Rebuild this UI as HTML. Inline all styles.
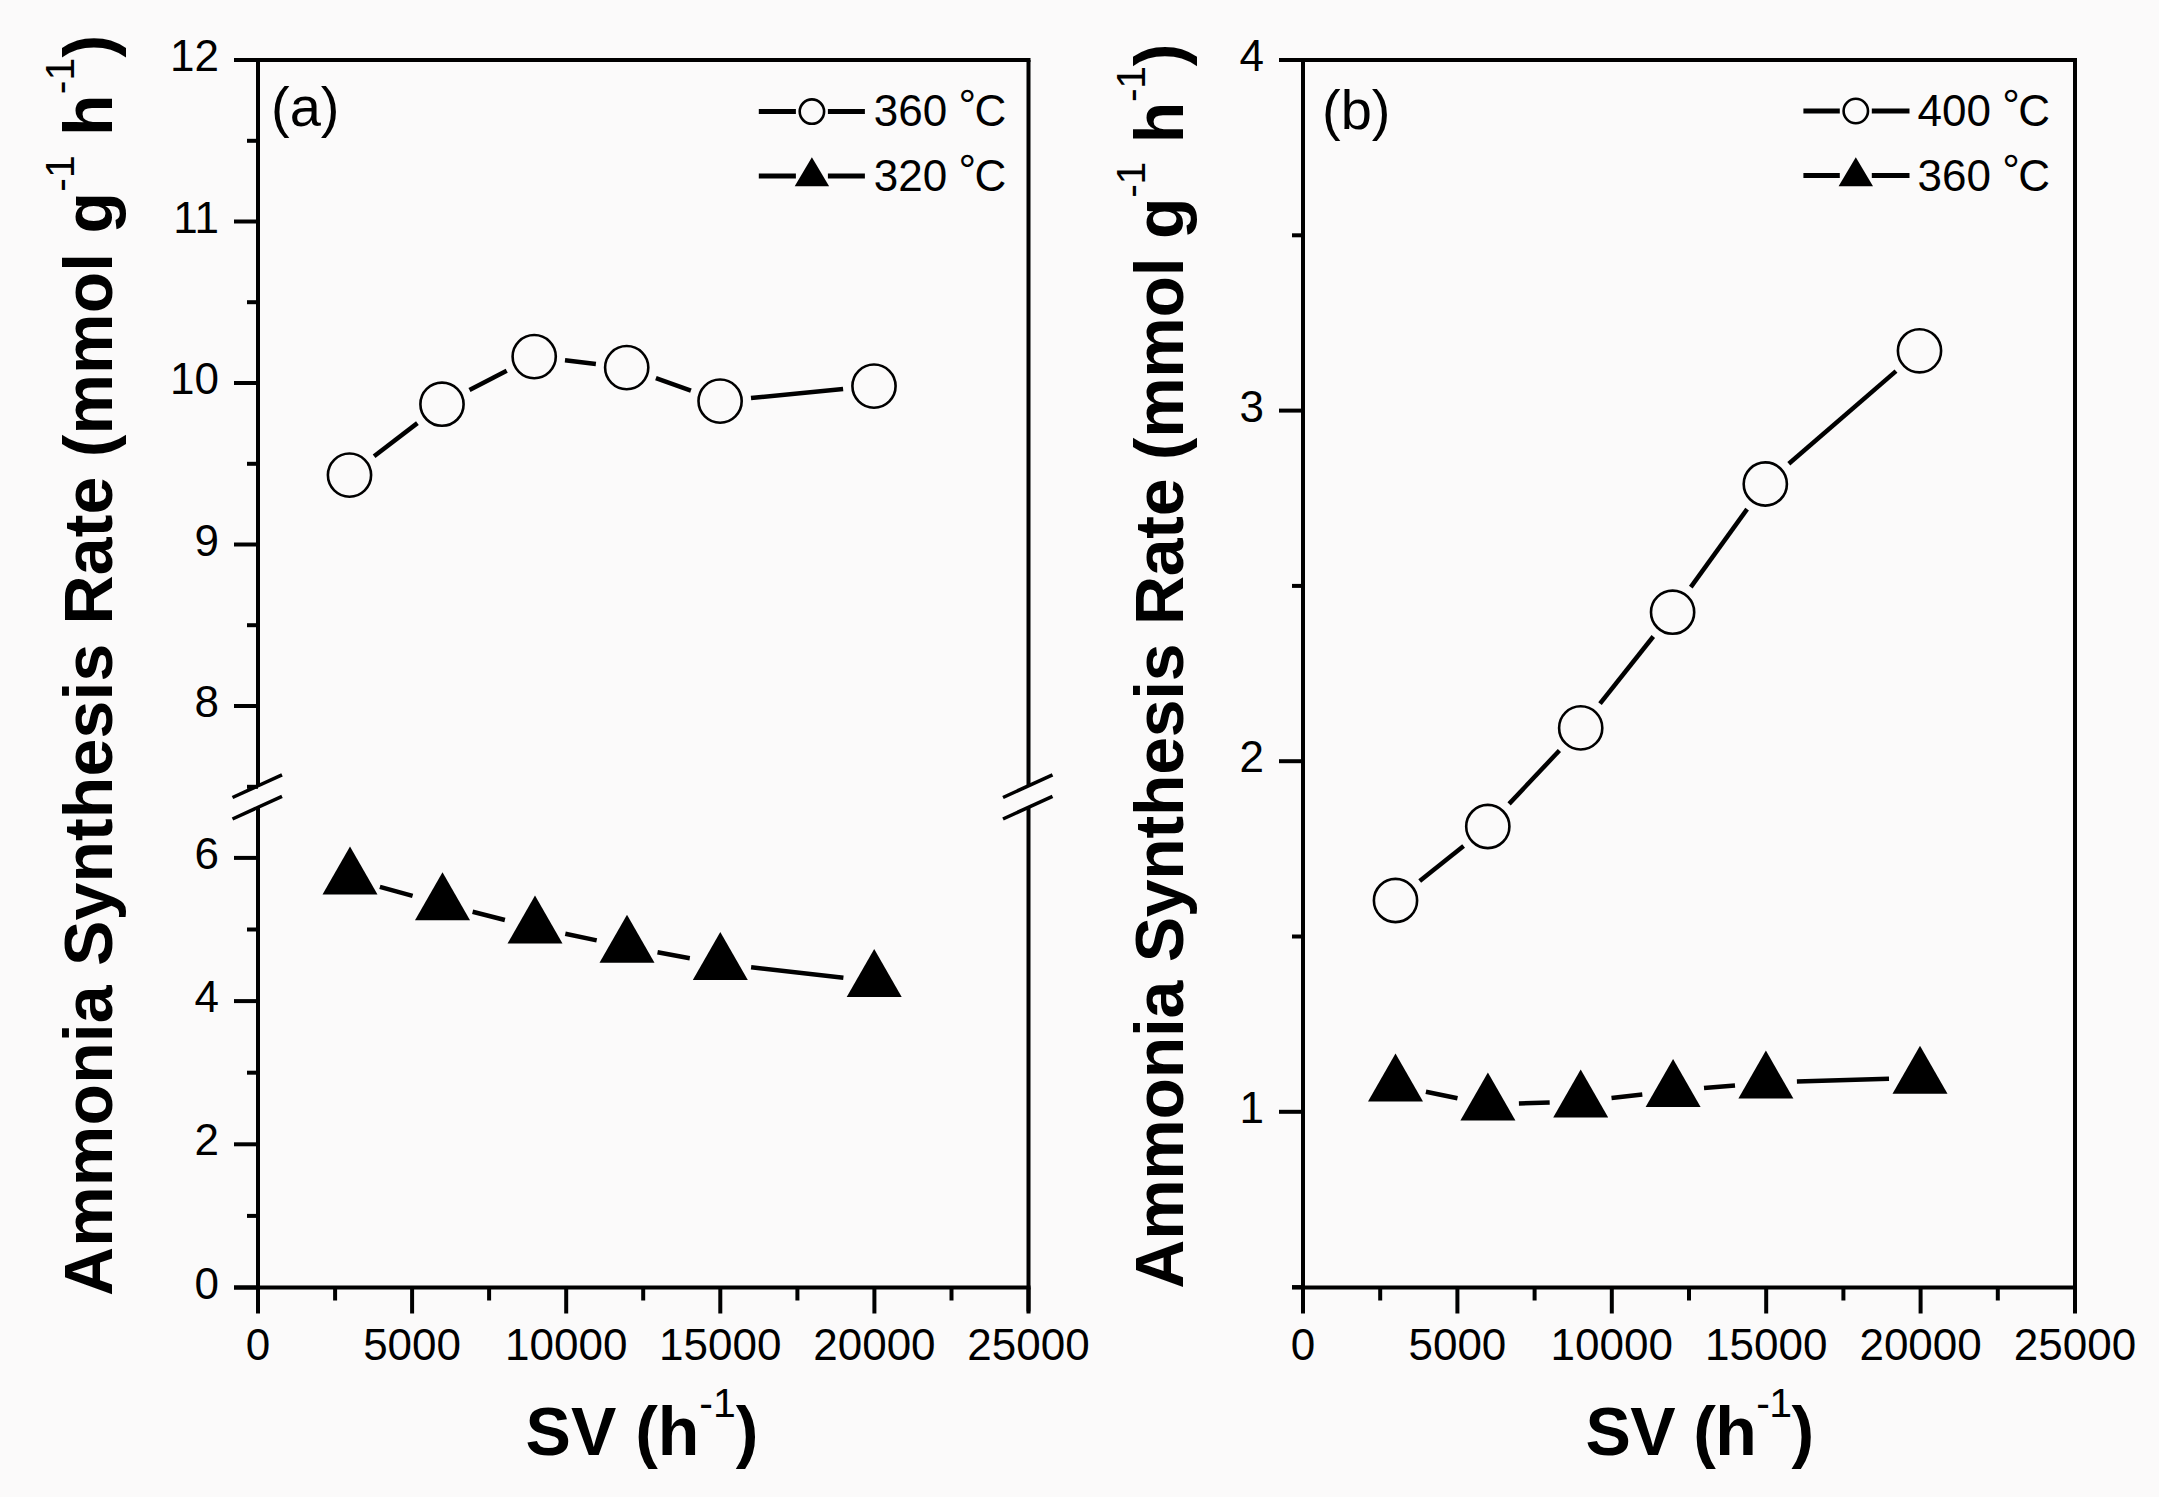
<!DOCTYPE html>
<html><head><meta charset="utf-8"><title>Ammonia synthesis rate vs SV</title>
<style>html,body{margin:0;padding:0;background:#fbfafa;}svg{display:block;}
text{font-family:'Liberation Sans', Arial, sans-serif;fill:#000;}</style></head>
<body><svg width="2159" height="1497" viewBox="0 0 2159 1497">
<rect width="2159" height="1497" fill="#fbfafa"/>
<line x1="234.0" y1="60.0" x2="1030.5" y2="60.0" stroke="#000" stroke-width="4" stroke-linecap="butt"/>
<line x1="234.0" y1="1287.5" x2="1030.5" y2="1287.5" stroke="#000" stroke-width="4" stroke-linecap="butt"/>
<line x1="258.0" y1="60.0" x2="258.0" y2="785.8" stroke="#000" stroke-width="4" stroke-linecap="butt"/>
<line x1="258.0" y1="807.3" x2="258.0" y2="1311.5" stroke="#000" stroke-width="4" stroke-linecap="butt"/>
<line x1="232.5" y1="797.5" x2="282.0" y2="774.8" stroke="#000" stroke-width="3.5" stroke-linecap="butt"/>
<line x1="232.5" y1="819.0" x2="282.0" y2="796.3" stroke="#000" stroke-width="3.5" stroke-linecap="butt"/>
<line x1="1028.5" y1="60.0" x2="1028.5" y2="785.8" stroke="#000" stroke-width="4" stroke-linecap="butt"/>
<line x1="1028.5" y1="807.3" x2="1028.5" y2="1311.5" stroke="#000" stroke-width="4" stroke-linecap="butt"/>
<line x1="1003.0" y1="797.5" x2="1052.5" y2="774.8" stroke="#000" stroke-width="3.5" stroke-linecap="butt"/>
<line x1="1003.0" y1="819.0" x2="1052.5" y2="796.3" stroke="#000" stroke-width="3.5" stroke-linecap="butt"/>
<line x1="258.0" y1="1287.5" x2="258.0" y2="1313.5" stroke="#000" stroke-width="4" stroke-linecap="butt"/>
<text x="258.0" y="1359.5" font-size="44" text-anchor="middle" font-weight="normal" >0</text>
<line x1="412.1" y1="1287.5" x2="412.1" y2="1313.5" stroke="#000" stroke-width="4" stroke-linecap="butt"/>
<text x="412.1" y="1359.5" font-size="44" text-anchor="middle" font-weight="normal" >5000</text>
<line x1="566.2" y1="1287.5" x2="566.2" y2="1313.5" stroke="#000" stroke-width="4" stroke-linecap="butt"/>
<text x="566.2" y="1359.5" font-size="44" text-anchor="middle" font-weight="normal" >10000</text>
<line x1="720.3" y1="1287.5" x2="720.3" y2="1313.5" stroke="#000" stroke-width="4" stroke-linecap="butt"/>
<text x="720.3" y="1359.5" font-size="44" text-anchor="middle" font-weight="normal" >15000</text>
<line x1="874.4" y1="1287.5" x2="874.4" y2="1313.5" stroke="#000" stroke-width="4" stroke-linecap="butt"/>
<text x="874.4" y="1359.5" font-size="44" text-anchor="middle" font-weight="normal" >20000</text>
<line x1="1028.5" y1="1287.5" x2="1028.5" y2="1313.5" stroke="#000" stroke-width="4" stroke-linecap="butt"/>
<text x="1028.5" y="1359.5" font-size="44" text-anchor="middle" font-weight="normal" >25000</text>
<line x1="335.1" y1="1287.5" x2="335.1" y2="1300.5" stroke="#000" stroke-width="4" stroke-linecap="butt"/>
<line x1="489.1" y1="1287.5" x2="489.1" y2="1300.5" stroke="#000" stroke-width="4" stroke-linecap="butt"/>
<line x1="643.2" y1="1287.5" x2="643.2" y2="1300.5" stroke="#000" stroke-width="4" stroke-linecap="butt"/>
<line x1="797.4" y1="1287.5" x2="797.4" y2="1300.5" stroke="#000" stroke-width="4" stroke-linecap="butt"/>
<line x1="951.5" y1="1287.5" x2="951.5" y2="1300.5" stroke="#000" stroke-width="4" stroke-linecap="butt"/>
<line x1="234.0" y1="706.0" x2="258.0" y2="706.0" stroke="#000" stroke-width="4" stroke-linecap="butt"/>
<text x="219.0" y="717.0" font-size="44" text-anchor="end" font-weight="normal" >8</text>
<line x1="234.0" y1="544.5" x2="258.0" y2="544.5" stroke="#000" stroke-width="4" stroke-linecap="butt"/>
<text x="219.0" y="555.5" font-size="44" text-anchor="end" font-weight="normal" >9</text>
<line x1="234.0" y1="383.0" x2="258.0" y2="383.0" stroke="#000" stroke-width="4" stroke-linecap="butt"/>
<text x="219.0" y="394.0" font-size="44" text-anchor="end" font-weight="normal" >10</text>
<line x1="234.0" y1="221.5" x2="258.0" y2="221.5" stroke="#000" stroke-width="4" stroke-linecap="butt"/>
<text x="219.0" y="232.5" font-size="44" text-anchor="end" font-weight="normal" >11</text>
<line x1="234.0" y1="60.0" x2="258.0" y2="60.0" stroke="#000" stroke-width="4" stroke-linecap="butt"/>
<text x="219.0" y="71.0" font-size="44" text-anchor="end" font-weight="normal" >12</text>
<line x1="247.0" y1="786.8" x2="258.0" y2="786.8" stroke="#000" stroke-width="4" stroke-linecap="butt"/>
<line x1="247.0" y1="625.2" x2="258.0" y2="625.2" stroke="#000" stroke-width="4" stroke-linecap="butt"/>
<line x1="247.0" y1="463.8" x2="258.0" y2="463.8" stroke="#000" stroke-width="4" stroke-linecap="butt"/>
<line x1="247.0" y1="302.2" x2="258.0" y2="302.2" stroke="#000" stroke-width="4" stroke-linecap="butt"/>
<line x1="247.0" y1="140.8" x2="258.0" y2="140.8" stroke="#000" stroke-width="4" stroke-linecap="butt"/>
<line x1="234.0" y1="1287.5" x2="258.0" y2="1287.5" stroke="#000" stroke-width="4" stroke-linecap="butt"/>
<text x="219.0" y="1298.5" font-size="44" text-anchor="end" font-weight="normal" >0</text>
<line x1="234.0" y1="1144.3" x2="258.0" y2="1144.3" stroke="#000" stroke-width="4" stroke-linecap="butt"/>
<text x="219.0" y="1155.3" font-size="44" text-anchor="end" font-weight="normal" >2</text>
<line x1="234.0" y1="1001.1" x2="258.0" y2="1001.1" stroke="#000" stroke-width="4" stroke-linecap="butt"/>
<text x="219.0" y="1012.1" font-size="44" text-anchor="end" font-weight="normal" >4</text>
<line x1="234.0" y1="857.9" x2="258.0" y2="857.9" stroke="#000" stroke-width="4" stroke-linecap="butt"/>
<text x="219.0" y="868.9" font-size="44" text-anchor="end" font-weight="normal" >6</text>
<line x1="247.0" y1="1215.9" x2="258.0" y2="1215.9" stroke="#000" stroke-width="4" stroke-linecap="butt"/>
<line x1="247.0" y1="1072.7" x2="258.0" y2="1072.7" stroke="#000" stroke-width="4" stroke-linecap="butt"/>
<line x1="247.0" y1="929.5" x2="258.0" y2="929.5" stroke="#000" stroke-width="4" stroke-linecap="butt"/>
<line x1="1279.0" y1="60.0" x2="2077.0" y2="60.0" stroke="#000" stroke-width="4" stroke-linecap="butt"/>
<line x1="1292.0" y1="1287.5" x2="2077.0" y2="1287.5" stroke="#000" stroke-width="4" stroke-linecap="butt"/>
<line x1="1303.0" y1="60.0" x2="1303.0" y2="1311.5" stroke="#000" stroke-width="4" stroke-linecap="butt"/>
<line x1="2075.0" y1="60.0" x2="2075.0" y2="1311.5" stroke="#000" stroke-width="4" stroke-linecap="butt"/>
<line x1="1303.0" y1="1287.5" x2="1303.0" y2="1313.5" stroke="#000" stroke-width="4" stroke-linecap="butt"/>
<text x="1303.0" y="1359.5" font-size="44" text-anchor="middle" font-weight="normal" >0</text>
<line x1="1457.4" y1="1287.5" x2="1457.4" y2="1313.5" stroke="#000" stroke-width="4" stroke-linecap="butt"/>
<text x="1457.4" y="1359.5" font-size="44" text-anchor="middle" font-weight="normal" >5000</text>
<line x1="1611.8" y1="1287.5" x2="1611.8" y2="1313.5" stroke="#000" stroke-width="4" stroke-linecap="butt"/>
<text x="1611.8" y="1359.5" font-size="44" text-anchor="middle" font-weight="normal" >10000</text>
<line x1="1766.2" y1="1287.5" x2="1766.2" y2="1313.5" stroke="#000" stroke-width="4" stroke-linecap="butt"/>
<text x="1766.2" y="1359.5" font-size="44" text-anchor="middle" font-weight="normal" >15000</text>
<line x1="1920.6" y1="1287.5" x2="1920.6" y2="1313.5" stroke="#000" stroke-width="4" stroke-linecap="butt"/>
<text x="1920.6" y="1359.5" font-size="44" text-anchor="middle" font-weight="normal" >20000</text>
<line x1="2075.0" y1="1287.5" x2="2075.0" y2="1313.5" stroke="#000" stroke-width="4" stroke-linecap="butt"/>
<text x="2075.0" y="1359.5" font-size="44" text-anchor="middle" font-weight="normal" >25000</text>
<line x1="1380.2" y1="1287.5" x2="1380.2" y2="1300.5" stroke="#000" stroke-width="4" stroke-linecap="butt"/>
<line x1="1534.6" y1="1287.5" x2="1534.6" y2="1300.5" stroke="#000" stroke-width="4" stroke-linecap="butt"/>
<line x1="1689.0" y1="1287.5" x2="1689.0" y2="1300.5" stroke="#000" stroke-width="4" stroke-linecap="butt"/>
<line x1="1843.4" y1="1287.5" x2="1843.4" y2="1300.5" stroke="#000" stroke-width="4" stroke-linecap="butt"/>
<line x1="1997.8" y1="1287.5" x2="1997.8" y2="1300.5" stroke="#000" stroke-width="4" stroke-linecap="butt"/>
<line x1="1279.0" y1="1111.8" x2="1303.0" y2="1111.8" stroke="#000" stroke-width="4" stroke-linecap="butt"/>
<text x="1264.0" y="1122.8" font-size="44" text-anchor="end" font-weight="normal" >1</text>
<line x1="1279.0" y1="761.2" x2="1303.0" y2="761.2" stroke="#000" stroke-width="4" stroke-linecap="butt"/>
<text x="1264.0" y="772.2" font-size="44" text-anchor="end" font-weight="normal" >2</text>
<line x1="1279.0" y1="410.6" x2="1303.0" y2="410.6" stroke="#000" stroke-width="4" stroke-linecap="butt"/>
<text x="1264.0" y="421.6" font-size="44" text-anchor="end" font-weight="normal" >3</text>
<line x1="1279.0" y1="60.0" x2="1303.0" y2="60.0" stroke="#000" stroke-width="4" stroke-linecap="butt"/>
<text x="1264.0" y="71.0" font-size="44" text-anchor="end" font-weight="normal" >4</text>
<line x1="1292.0" y1="1287.1" x2="1303.0" y2="1287.1" stroke="#000" stroke-width="4" stroke-linecap="butt"/>
<line x1="1292.0" y1="936.5" x2="1303.0" y2="936.5" stroke="#000" stroke-width="4" stroke-linecap="butt"/>
<line x1="1292.0" y1="585.9" x2="1303.0" y2="585.9" stroke="#000" stroke-width="4" stroke-linecap="butt"/>
<line x1="1292.0" y1="235.3" x2="1303.0" y2="235.3" stroke="#000" stroke-width="4" stroke-linecap="butt"/>
<line x1="374.1" y1="456.2" x2="417.4" y2="423.1" stroke="#000" stroke-width="4.5" stroke-linecap="butt"/>
<line x1="469.5" y1="390.0" x2="506.7" y2="370.8" stroke="#000" stroke-width="4.5" stroke-linecap="butt"/>
<line x1="565.0" y1="360.3" x2="595.9" y2="363.9" stroke="#000" stroke-width="4.5" stroke-linecap="butt"/>
<line x1="655.9" y1="378.1" x2="690.9" y2="390.6" stroke="#000" stroke-width="4.5" stroke-linecap="butt"/>
<line x1="751.0" y1="398.1" x2="843.1" y2="389.1" stroke="#000" stroke-width="4.5" stroke-linecap="butt"/>
<circle cx="349.5" cy="475.1" r="21.6" fill="none" stroke="#000" stroke-width="2.6"/>
<circle cx="442.0" cy="404.2" r="21.6" fill="none" stroke="#000" stroke-width="2.6"/>
<circle cx="534.2" cy="356.6" r="21.6" fill="none" stroke="#000" stroke-width="2.6"/>
<circle cx="626.7" cy="367.6" r="21.6" fill="none" stroke="#000" stroke-width="2.6"/>
<circle cx="720.1" cy="401.1" r="21.6" fill="none" stroke="#000" stroke-width="2.6"/>
<circle cx="874.0" cy="386.1" r="21.6" fill="none" stroke="#000" stroke-width="2.6"/>
<line x1="1419.7" y1="881.1" x2="1463.6" y2="845.9" stroke="#000" stroke-width="4.5" stroke-linecap="butt"/>
<line x1="1509.1" y1="803.9" x2="1559.4" y2="750.5" stroke="#000" stroke-width="4.5" stroke-linecap="butt"/>
<line x1="1600.0" y1="703.6" x2="1653.3" y2="636.5" stroke="#000" stroke-width="4.5" stroke-linecap="butt"/>
<line x1="1690.8" y1="587.1" x2="1747.1" y2="509.1" stroke="#000" stroke-width="4.5" stroke-linecap="butt"/>
<line x1="1788.8" y1="463.7" x2="1896.0" y2="371.1" stroke="#000" stroke-width="4.5" stroke-linecap="butt"/>
<circle cx="1395.5" cy="900.5" r="21.6" fill="none" stroke="#000" stroke-width="2.6"/>
<circle cx="1487.8" cy="826.5" r="21.6" fill="none" stroke="#000" stroke-width="2.6"/>
<circle cx="1580.7" cy="727.9" r="21.6" fill="none" stroke="#000" stroke-width="2.6"/>
<circle cx="1672.6" cy="612.2" r="21.6" fill="none" stroke="#000" stroke-width="2.6"/>
<circle cx="1765.3" cy="484.0" r="21.6" fill="none" stroke="#000" stroke-width="2.6"/>
<circle cx="1919.5" cy="350.8" r="21.6" fill="none" stroke="#000" stroke-width="2.6"/>
<line x1="379.9" y1="886.8" x2="412.6" y2="895.9" stroke="#000" stroke-width="4.5" stroke-linecap="butt"/>
<line x1="472.6" y1="911.8" x2="504.9" y2="920.0" stroke="#000" stroke-width="4.5" stroke-linecap="butt"/>
<line x1="565.3" y1="933.8" x2="596.7" y2="940.4" stroke="#000" stroke-width="4.5" stroke-linecap="butt"/>
<line x1="657.5" y1="952.3" x2="689.8" y2="958.3" stroke="#000" stroke-width="4.5" stroke-linecap="butt"/>
<line x1="751.1" y1="967.3" x2="843.4" y2="977.7" stroke="#000" stroke-width="4.5" stroke-linecap="butt"/>
<polygon points="350.0,846.4 377.5,894.4 322.5,894.4" fill="#000"/>
<polygon points="442.5,872.3 470.0,920.3 415.0,920.3" fill="#000"/>
<polygon points="535.0,895.5 562.5,943.5 507.5,943.5" fill="#000"/>
<polygon points="627.0,914.7 654.5,962.7 599.5,962.7" fill="#000"/>
<polygon points="720.3,931.9 747.8,979.9 692.8,979.9" fill="#000"/>
<polygon points="874.2,949.1 901.7,997.1 846.7,997.1" fill="#000"/>
<line x1="1425.9" y1="1091.8" x2="1457.5" y2="1098.3" stroke="#000" stroke-width="4.5" stroke-linecap="butt"/>
<line x1="1518.9" y1="1103.5" x2="1549.7" y2="1102.5" stroke="#000" stroke-width="4.5" stroke-linecap="butt"/>
<line x1="1611.5" y1="1098.0" x2="1642.3" y2="1094.4" stroke="#000" stroke-width="4.5" stroke-linecap="butt"/>
<line x1="1704.0" y1="1088.1" x2="1735.0" y2="1085.4" stroke="#000" stroke-width="4.5" stroke-linecap="butt"/>
<line x1="1796.9" y1="1081.6" x2="1889.0" y2="1078.7" stroke="#000" stroke-width="4.5" stroke-linecap="butt"/>
<polygon points="1395.5,1053.6 1423.0,1101.6 1368.0,1101.6" fill="#000"/>
<polygon points="1487.9,1072.5 1515.4,1120.5 1460.4,1120.5" fill="#000"/>
<polygon points="1580.7,1069.5 1608.2,1117.5 1553.2,1117.5" fill="#000"/>
<polygon points="1673.1,1058.9 1700.6,1106.9 1645.6,1106.9" fill="#000"/>
<polygon points="1765.9,1050.6 1793.4,1098.6 1738.4,1098.6" fill="#000"/>
<polygon points="1920.0,1045.7 1947.5,1093.7 1892.5,1093.7" fill="#000"/>
<line x1="758.8" y1="111.6" x2="795.9" y2="111.6" stroke="#000" stroke-width="5" stroke-linecap="butt"/>
<line x1="827.9" y1="111.6" x2="864.9" y2="111.6" stroke="#000" stroke-width="5" stroke-linecap="butt"/>
<circle cx="811.9" cy="111.6" r="12.2" fill="none" stroke="#000" stroke-width="2.6"/>
<line x1="758.8" y1="176.1" x2="795.9" y2="176.1" stroke="#000" stroke-width="5" stroke-linecap="butt"/>
<line x1="827.9" y1="176.1" x2="864.9" y2="176.1" stroke="#000" stroke-width="5" stroke-linecap="butt"/>
<polygon points="811.9,157.3 829.1,186.2 794.7,186.2" fill="#000"/>
<text x="873.8" y="126.2" font-size="44">360 <tspan dx="-1" dy="-5">°</tspan><tspan dx="-1.5" dy="5">C</tspan></text>
<text x="873.8" y="190.6" font-size="44">320 <tspan dx="-1" dy="-5">°</tspan><tspan dx="-1.5" dy="5">C</tspan></text>
<line x1="1803.4" y1="111.0" x2="1839.8" y2="111.0" stroke="#000" stroke-width="5" stroke-linecap="butt"/>
<line x1="1871.8" y1="111.0" x2="1909.5" y2="111.0" stroke="#000" stroke-width="5" stroke-linecap="butt"/>
<circle cx="1855.8" cy="111.0" r="12.2" fill="none" stroke="#000" stroke-width="2.6"/>
<line x1="1803.4" y1="175.6" x2="1839.8" y2="175.6" stroke="#000" stroke-width="5" stroke-linecap="butt"/>
<line x1="1871.8" y1="175.6" x2="1909.5" y2="175.6" stroke="#000" stroke-width="5" stroke-linecap="butt"/>
<polygon points="1855.8,157.3 1873.0,186.2 1838.6,186.2" fill="#000"/>
<text x="1917.5" y="126.2" font-size="44">400 <tspan dx="-1" dy="-5">°</tspan><tspan dx="-1.5" dy="5">C</tspan></text>
<text x="1917.5" y="190.6" font-size="44">360 <tspan dx="-1" dy="-5">°</tspan><tspan dx="-1.5" dy="5">C</tspan></text>
<text x="271.0" y="126.0" font-size="56" text-anchor="start" font-weight="normal" >(a)</text>
<text x="1322.0" y="128.5" font-size="56" text-anchor="start" font-weight="normal" >(b)</text>
<text transform="translate(112.1,665.4) rotate(-90)" font-size="68" font-weight="bold" text-anchor="middle" letter-spacing="0.155">Ammonia Synthesis Rate (mmol g<tspan font-size="41" font-weight="normal" dy="-38">-1</tspan><tspan dy="38"> h</tspan><tspan font-size="41" font-weight="normal" dy="-38">-1</tspan><tspan dy="38">)</tspan></text>
<text transform="translate(1183.3,666.25) rotate(-90)" font-size="68" font-weight="bold" text-anchor="middle" letter-spacing="-0.29">Ammonia Synthesis Rate (mmol g<tspan font-size="41" font-weight="normal" dy="-38">-1</tspan><tspan dy="38"> h</tspan><tspan font-size="41" font-weight="normal" dy="-38">-1</tspan><tspan dy="38">)</tspan></text>
<text x="642" y="1454.5" font-size="68" font-weight="bold" text-anchor="middle" letter-spacing="0">SV (h<tspan font-size="41" font-weight="normal" dy="-38">-1</tspan><tspan dy="38">)</tspan></text>
<text x="1699.5" y="1454.5" font-size="68" font-weight="bold" text-anchor="middle" letter-spacing="-0.6">SV (h<tspan font-size="41" font-weight="normal" dy="-38">-1</tspan><tspan dy="38">)</tspan></text>
</svg></body></html>
